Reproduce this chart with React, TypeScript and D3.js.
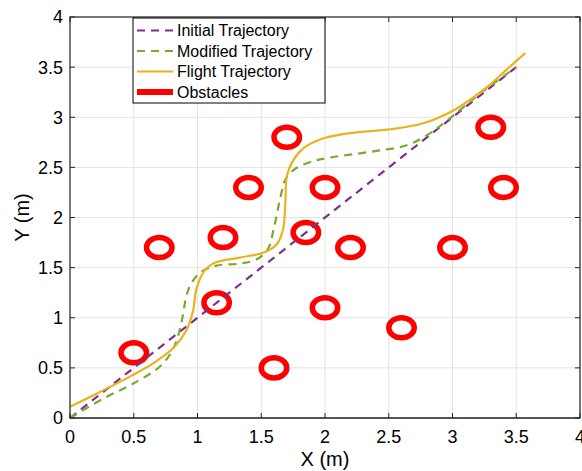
import React from 'react';
import * as d3 from 'd3';

const ticks = [0, 0.5, 1, 1.5, 2, 2.5, 3, 3.5, 4];
const tickLabels = ['0', '0.5', '1', '1.5', '2', '2.5', '3', '3.5', '4'];

const initialX = [0, 3.5];
const initialY = [0, 3.5];

const modifiedX = [0, 0.27, 0.52, 0.72, 0.82, 0.87, 0.92, 0.96, 1.02, 1.15, 1.33, 1.46, 1.55, 1.6, 1.65, 1.69, 1.76, 1.9, 2.05, 2.38, 2.64, 2.8, 2.95, 3.24, 3.5];
const modifiedY = [0, 0.2, 0.36, 0.53, 0.72, 0.93, 1.25, 1.36, 1.45, 1.52, 1.54, 1.58, 1.68, 1.9, 2.2, 2.38, 2.48, 2.56, 2.6, 2.66, 2.72, 2.82, 2.96, 3.26, 3.5];

const flightX = [0, 0.22, 0.48, 0.67, 0.82, 0.915, 0.967, 0.99, 1.05, 1.12, 1.33, 1.52, 1.62, 1.67, 1.69, 1.7, 1.75, 1.83, 1.99, 2.25, 2.51, 2.77, 3.01, 3.27, 3.42, 3.57];
const flightY = [0.113, 0.25, 0.42, 0.56, 0.71, 0.88, 1.08, 1.28, 1.46, 1.54, 1.6, 1.65, 1.73, 1.875, 2.17, 2.41, 2.57, 2.69, 2.79, 2.85, 2.88, 2.94, 3.07, 3.3, 3.47, 3.64];

const obstacleX = [0.5, 0.7, 1.15, 1.2, 1.4, 1.6, 1.7, 1.85, 2.0, 2.0, 2.2, 2.6, 3.0, 3.3, 3.4];
const obstacleY = [0.65, 1.7, 1.15, 1.8, 2.3, 0.5, 2.8, 1.85, 2.3, 1.1, 1.7, 0.9, 1.7, 2.9, 2.3];
const obstacleR = 0.1;

const legendLabels = ['Initial Trajectory', 'Modified Trajectory', 'Flight Trajectory', 'Obstacles'];

const purple = '#7e2f8e';
const green = '#77ac30';
const orange = '#edb120';
const red = '#ff0000';

export default function App() {
  const W = 582, H = 471;
  const left = 70, right = 580, top = 17, bottom = 418;
  const x = d3.scaleLinear().domain([0, 4]).range([left, right]);
  const y = d3.scaleLinear().domain([0, 4]).range([bottom, top]);

  const line = d3.line<[number, number]>()
    .x(d => x(d[0]))
    .y(d => y(d[1]))
    .curve(d3.curveCatmullRom.alpha(0.5));

  const zip = (a: number[], b: number[]) => a.map((v, i) => [v, b[i]] as [number, number]);

  const rx = x(obstacleR) - x(0);
  const ry = y(0) - y(obstacleR);
  const font = 'Liberation Sans, Arial, Helvetica, sans-serif';
  const axisColor = '#262626';

  const legend = [
    { label: legendLabels[0], color: purple, dash: '8,6', w: 2 },
    { label: legendLabels[1], color: green, dash: '8,6', w: 2 },
    { label: legendLabels[2], color: orange, dash: null, w: 2 },
    { label: legendLabels[3], color: red, dash: null, w: 6 },
  ];
  const lg = { x: 133, y: 18, w: 192, h: 85 };

  return (
    <svg width={W} height={H} style={{ position: 'fixed', left: 0, top: 0, background: '#fff' }} fontFamily={font}>
      <rect x={0} y={0} width={W} height={H} fill="#fff" />
      {/* grid */}
      {ticks.map(t => (
        <g key={'g' + t}>
          <line x1={x(t)} x2={x(t)} y1={top} y2={bottom} stroke="#e3e3e3" strokeWidth={1} />
          <line x1={left} x2={right} y1={y(t)} y2={y(t)} stroke="#e3e3e3" strokeWidth={1} />
        </g>
      ))}
      {/* obstacles */}
      {obstacleX.map((ox, i) => (
        <ellipse key={'o' + i} cx={x(ox)} cy={y(obstacleY[i])} rx={rx} ry={ry} fill="none" stroke={red} strokeWidth={5.5} />
      ))}
      {/* trajectories */}
      <path d={line(zip(initialX, initialY)) || ''} fill="none" stroke={purple} strokeWidth={2.2} strokeDasharray="8,6" />
      <path d={line(zip(modifiedX, modifiedY)) || ''} fill="none" stroke={green} strokeWidth={2.2} strokeDasharray="8,6" />
      <path d={line(zip(flightX, flightY)) || ''} fill="none" stroke={orange} strokeWidth={2.2} />
      {/* box and ticks */}
      <rect x={left} y={top} width={right - left} height={bottom - top} fill="none" stroke={axisColor} strokeWidth={1.2} />
      <line x1={left} x2={right} y1={bottom} y2={bottom} stroke="#555" strokeWidth={2} />
      {ticks.map(t => (
        <g key={'t' + t} stroke={axisColor} strokeWidth={1}>
          <line x1={x(t)} x2={x(t)} y1={bottom} y2={bottom - 5} />
          <line x1={x(t)} x2={x(t)} y1={top} y2={top + 5} />
          <line x1={left} x2={left + 5} y1={y(t)} y2={y(t)} />
          <line x1={right} x2={right - 5} y1={y(t)} y2={y(t)} />
        </g>
      ))}
      {ticks.map((t, i) => (
        <text key={'xl' + t} x={x(t)} y={bottom + 25} textAnchor="middle" fontSize={18} fill="#000">{tickLabels[i]}</text>
      ))}
      {ticks.map((t, i) => (
        <text key={'yl' + t} x={left - 7} y={y(t)} dy="0.36em" textAnchor="end" fontSize={18} fill="#000">{tickLabels[i]}</text>
      ))}
      <text x={(left + right) / 2} y={466} textAnchor="middle" fontSize={20} fill="#000">X (m)</text>
      <text transform={`translate(29,${(top + bottom) / 2}) rotate(-90)`} textAnchor="middle" fontSize={20} fill="#000">Y (m)</text>
      {/* legend */}
      <rect x={lg.x} y={lg.y} width={lg.w} height={lg.h} fill="#fff" stroke="#000" strokeWidth={1} />
      {legend.map((e, i) => {
        const cy = lg.y + 12.5 + i * 20.5;
        return (
          <g key={'lg' + i}>
            <line x1={lg.x + 4} x2={lg.x + 40} y1={cy} y2={cy} stroke={e.color} strokeWidth={e.w} strokeDasharray={e.dash || undefined} />
            <text x={lg.x + 44} y={cy} dy="0.36em" fontSize={16} fill="#000">{e.label}</text>
          </g>
        );
      })}
    </svg>
  );
}
